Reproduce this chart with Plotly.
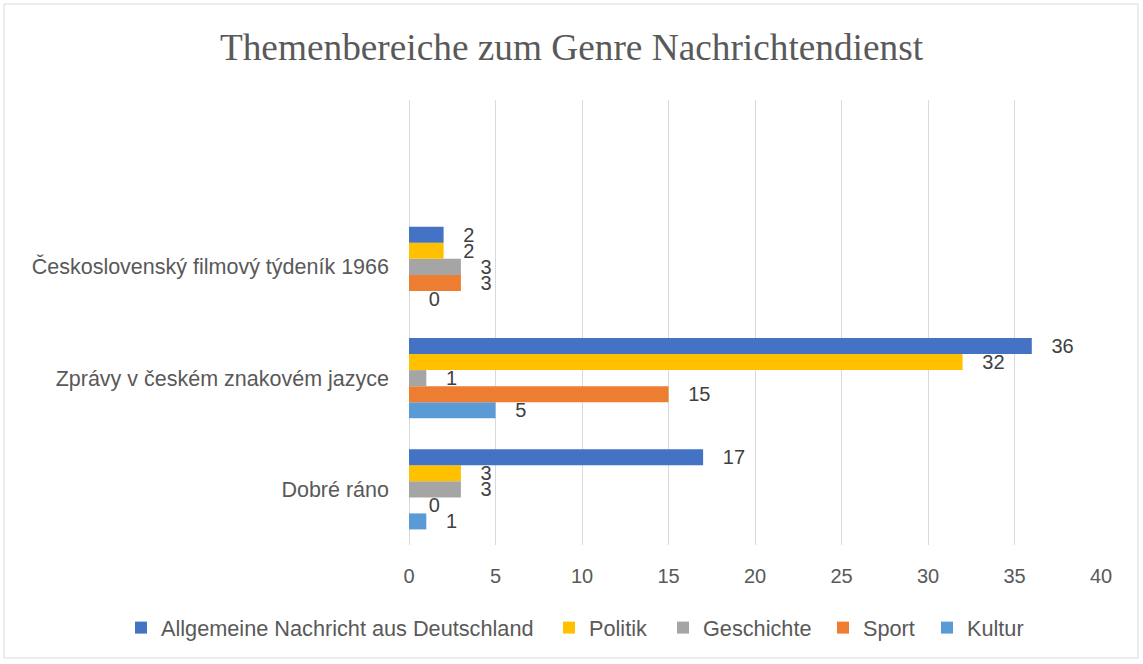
import plotly.graph_objects as go

categories = ["Dobré ráno", "Zprávy v českém znakovém jazyce", "Československý filmový týdeník 1966"]
series_names = ["Allgemeine Nachricht aus Deutschland", "Politik", "Geschichte", "Sport", "Kultur"]
allgemeine = [17, 36, 2]
politik = [3, 32, 2]
geschichte = [3, 1, 3]
sport = [0, 15, 3]
kultur = [1, 5, 0]
x_ticks = [0, 5, 10, 15, 20, 25, 30, 35, 40]

colors = ["#4472C4", "#FFC000", "#A5A5A5", "#ED7D31", "#5B9BD5"]
values = [allgemeine, politik, geschichte, sport, kultur]

FONT = "Liberation Sans, Arial, sans-serif"

# plot area in pixels
PL, PR, PT, PB = 409, 1101, 100, 545
PW, PH = PR - PL, PB - PT

legend_ids = ["legend2", "legend3", "legend4", "legend5", "legend6"]
legend_left_px = [121, 549, 663, 823, 927]

fig = go.Figure()
# plotly stacks horizontal groups bottom-up, so add in reverse order
for i in reversed(range(len(series_names))):
    fig.add_trace(go.Bar(
        y=categories, x=values[i], name=series_names[i], orientation="h",
        marker=dict(color=colors[i], line=dict(width=0)),
        texttemplate="\u00a0\u00a0\u00a0%{x}", textposition="outside",
        textfont=dict(family=FONT, size=20, color="#404040"),
        constraintext="none", cliponaxis=False, legend=legend_ids[i], showlegend=True,
    ))

legends = {}
for i, lid in enumerate(legend_ids):
    legends[lid] = dict(orientation="h", xref="paper", x=(legend_left_px[i] - PL) / PW, xanchor="left",
                        y=(PB - 628) / PH, yanchor="middle",
                        font=dict(size=21.7, color="#595959"), bgcolor="rgba(0,0,0,0)")

fig.update_layout(
    width=1143, height=664, showlegend=True,
    barmode="group", bargap=0.28, bargroupgap=0,
    plot_bgcolor="white", paper_bgcolor="white",
    margin=dict(l=PL, r=1143 - PR, t=PT, b=664 - PB, autoexpand=False),
    title=dict(text="Themenbereiche zum Genre Nachrichtendienst", x=0.5, xref="container",
               xanchor="center", y=1 - 47 / 664, yanchor="middle",
               font=dict(family="Liberation Serif, Times New Roman, serif", size=37.3, color="#595959")),
    font=dict(family=FONT, color="#595959"),
    xaxis=dict(range=[0, 40], tickvals=x_ticks, showgrid=True, gridcolor="#D9D9D9", gridwidth=1,
               zeroline=True, zerolinecolor="#D9D9D9", zerolinewidth=1, showline=False,
               ticks="outside", ticklen=13, tickcolor="rgba(255,255,255,0)",
               tickfont=dict(size=20, color="#595959")),
    yaxis=dict(type="category", range=[-0.5, 3.5], showgrid=False, zeroline=False, showline=False,
               tickfont=dict(size=21.5, color="#595959"), ticklabelstandoff=19),
    shapes=[dict(type="rect", xref="paper", yref="paper",
                 x0=(4 - PL) / PW, x1=(1138 - PL) / PW,
                 y0=(PB - 658) / PH, y1=(PB - 4) / PH,
                 line=dict(color="#D9D9D9", width=1), fillcolor="rgba(0,0,0,0)", layer="below")],
    **legends,
)

fig.write_html("out.html", config={"displayModeBar": False},
               post_script="document.body.style.margin='0';")
